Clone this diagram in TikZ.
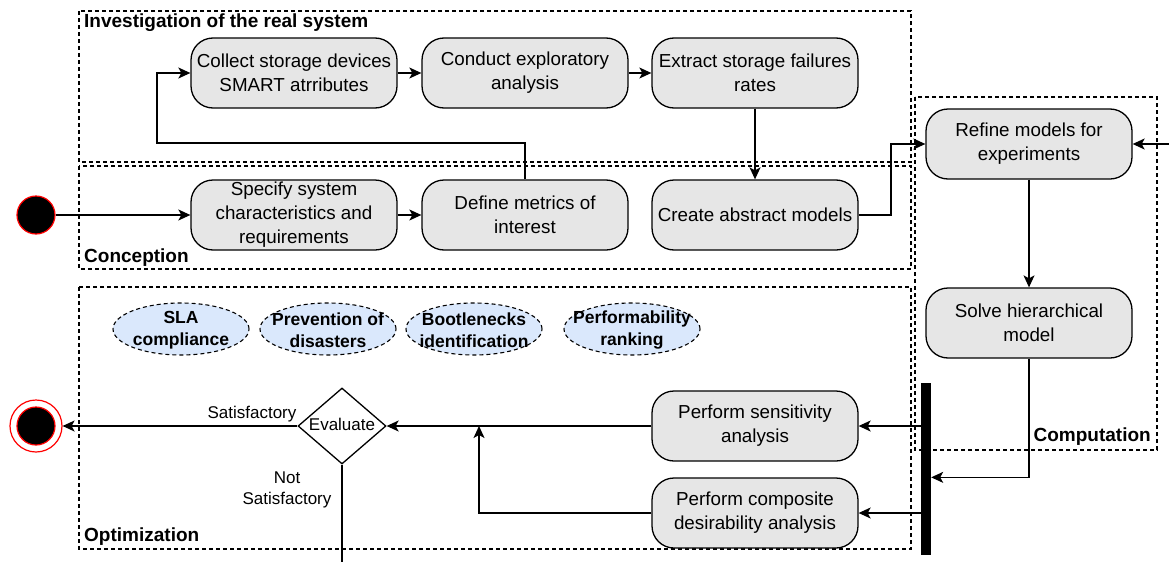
\documentclass[tikz,border=0pt]{standalone}
\usepackage{fontspec}
\setmainfont{Liberation Sans}
\usetikzlibrary{arrows.meta,shapes.geometric}
\definecolor{actfill}{HTML}{E6E6E6}
\definecolor{goalfill}{HTML}{DAE8FC}
\begin{document}
\begin{tikzpicture}[x=1pt,y=-1pt,
  act/.style={draw, line width=1.3pt, fill=actfill, rounded corners=22pt, minimum width=206pt, minimum height=70pt, align=center, inner sep=1pt, font=\fontsize{18.8}{24}\selectfont},
  cont/.style={draw, line width=1.1pt, dash pattern=on 4pt off 3pt},
  goal/.style={ellipse, draw, line width=1.1pt, dash pattern=on 4pt off 3pt, fill=goalfill, minimum width=136pt, minimum height=52pt, inner sep=0pt},
  goaltext/.style={align=center, inner sep=0pt, font=\fontsize{17.5}{22}\selectfont\bfseries},
  flow/.style={line width=1.3pt, -{Stealth[length=12pt,width=11pt,inset=3pt]}},
  plain/.style={line width=1.3pt},
  title/.style={font=\fontsize{19}{22}\selectfont\bfseries, inner sep=0pt},
  elabel/.style={font=\fontsize{17}{21}\selectfont, align=center, inner sep=0pt}
]
\useasboundingbox (0,0) rectangle (1169,562);
% containers
\draw[cont] (79,11) rectangle (911,162);
\draw[cont] (79,166) rectangle (911,269);
\draw[cont] (79,287) rectangle (911,549);
\draw[cont] (915,97) rectangle (1157,450);
\node[title, anchor=west] (tinv) at (84,23) {Investigation of the real system};
\node[title, anchor=west] (tcon) at (84,258) {Conception};
\node[title, anchor=west] (topt) at (84,537) {Optimization};
\node[title, anchor=east] (tcomp) at (1151,437) {Computation};
% activities
\node[act] (collect) at (294,73) {Collect storage devices\\SMART atrributes};
\node[act] (conduct) at (525,73) {Conduct exploratory\\analysis};
\node[act] (extract) at (755,73) {Extract storage failures\\rates};
\node[act] (specify) at (294,215) {Specify system\\characteristics and\\requirements};
\node[act] (define) at (525,215) {Define metrics of\\interest};
\node[act] (create) at (755,215) {Create abstract models};
\node[act] (refine) at (1029,144) {Refine models for\\experiments};
\node[act] (solve) at (1029,323) {Solve hierarchical\\model};
\node[act] (sens) at (755,426) {Perform sensitivity\\analysis};
\node[act] (comp) at (755,513) {Perform composite\\desirability analysis};
% goals
\node[goal] (sla) at (181,329) {};
\node[goaltext] (slat) at (181,330) {SLA\\compliance};
\node[goal] (prev) at (328,329) {};
\node[goaltext] (prevt) at (328,330) {Prevention of\\disasters};
\node[goal] (boot) at (474,329) {};
\node[goaltext] (boott) at (474,330) {Bootlenecks\\identification};
\node[goal] (perf) at (632,329) {};
\node[goaltext] (perft) at (632,330) {Performability\\ranking};
% start / end
\node[circle, fill=black, draw=red, line width=1.2pt, minimum size=38pt, inner sep=0pt] (start) at (36,215) {};
\node[circle, draw=red, line width=1.2pt, minimum size=52pt, inner sep=0pt] (endo) at (36,426) {};
\node[circle, fill=black, draw=red, line width=1.2pt, minimum size=38pt, inner sep=0pt] (endi) at (36,426) {};
% decision
\node[diamond, draw, line width=1.3pt, fill=white, minimum width=88pt, minimum height=76pt, inner sep=0pt] (eval) at (342,426) {};
\node[font=\fontsize{17}{20}\selectfont, inner sep=0pt] (evallbl) at (342,424) {Evaluate};
% fork bar
\node[fill=black, minimum width=10pt, minimum height=172pt, inner sep=0pt] (bar) at (926,469) {};
% coordinates
\coordinate (c1) at (157,143);
\coordinate (c2) at (891,144);
\coordinate (rin) at (1169,144);
\coordinate (mj) at (479,426);
\coordinate (nsout) at (342,562);
% connectors
\draw[flow] (start) -- (specify);
\draw[flow] (specify) -- (define);
\draw[flow] (define.north) |- (c1) |- (collect.west);
\draw[flow] (collect) -- (conduct);
\draw[flow] (conduct) -- (extract);
\draw[flow] (extract) -- (create);
\draw[flow] (create.east) -| (c2) -- (refine.west);
\draw[flow] (rin) -- (refine.east);
\draw[flow] (refine) -- (solve);
\draw[flow] (solve.south) |- (bar.east |- comp.north);
\draw[flow] (bar.west |- sens) -- (sens.east);
\draw[flow] (bar.west |- comp) -- (comp.east);
\draw[flow] (sens.west) -- (eval.east);
\draw[flow] (comp.west) -| (mj);
\draw[flow] (eval.west) -- (endo.east);
\draw[plain] (eval.south) -- (nsout);
\node[elabel] (lsat) at (252,414) {Satisfactory};
\node[elabel] (lnsat) at (287,490) {Not\\Satisfactory};
\end{tikzpicture}
\end{document}
